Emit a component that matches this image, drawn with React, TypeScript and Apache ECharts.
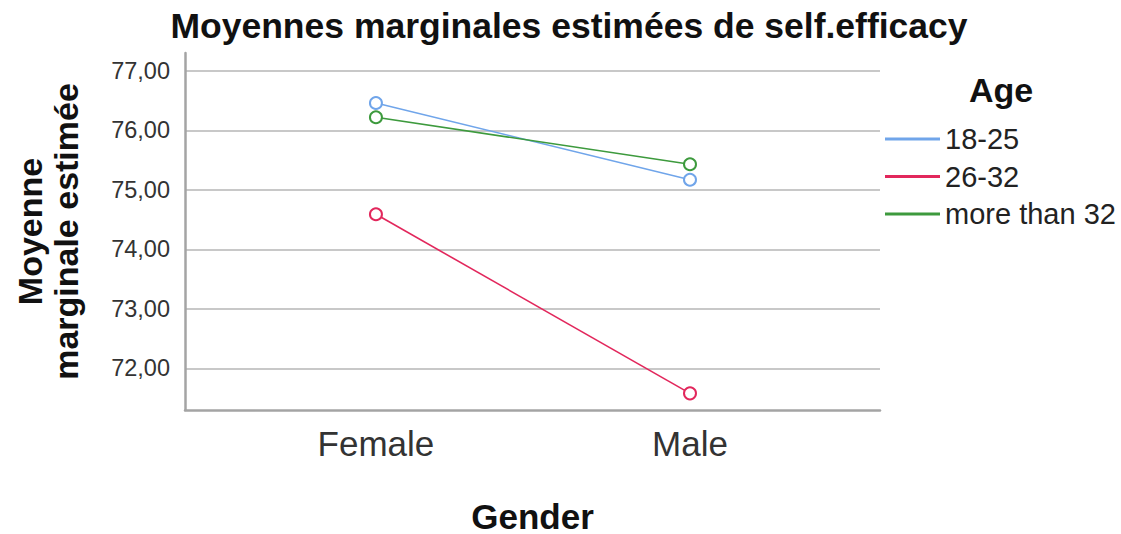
import React, { useEffect, useRef } from "react";
import * as echarts from "echarts";

const genders = ["Female", "Male"];
const ageGroups = ["18-25", "26-32", "more than 32"];
const age18to25 = [76.46, 75.17];
const age26to32 = [74.59, 71.58];
const ageOver32 = [76.22, 75.43];
const yTicks = [72, 73, 74, 75, 76, 77];
const colors = ["#70a5ea", "#e2275c", "#3d9a3d"];

const FONT = "'Liberation Sans', Arial, sans-serif";

export default function App() {
  const ref = useRef<HTMLDivElement>(null);
  useEffect(() => {
    if (!ref.current) return;
    const chart = echarts.init(ref.current, undefined, { renderer: "svg" });
    const seriesValues = [age18to25, age26to32, ageOver32];
    const series = ageGroups.map((name, i) => ({
      name,
      type: "line",
      data: seriesValues[i].map((v, j) => [j, v]),
      symbol: "emptyCircle",
      symbolSize: 12,
      color: colors[i],
      lineStyle: { width: 1.6, color: colors[i] },
      itemStyle: { color: colors[i], borderWidth: 1.6 },
      emphasis: { disabled: true },
    }));
    chart.setOption({
      animation: false,
      textStyle: { fontFamily: FONT },
      title: {
        text: "Moyennes marginales estimées de self.efficacy",
        left: 564,
        textAlign: "center",
        top: 3,
        textStyle: { fontSize: 35.5, fontWeight: "bold", color: "#111", fontFamily: FONT },
      },
      legend: {
        orient: "vertical",
        left: 885,
        top: 124,
        padding: 0,
        icon: "rect",
        itemWidth: 55,
        itemHeight: 3,
        itemGap: 7.5,
        data: ageGroups.map((n, i) => ({ name: n, itemStyle: { color: colors[i] } })),
        textStyle: { fontSize: 29, color: "#222", fontFamily: FONT, lineHeight: 30 },
      },
      graphic: [
        {
          type: "text",
          left: 969,
          top: 73,
          style: { text: "Age", font: `bold 34px ${FONT}`, fill: "#111" },
        },
      ],
      grid: { left: 185, right: 241, top: 53, bottom: 124, outerBoundsMode: "none", containLabel: false },
      xAxis: {
        type: "value",
        min: -0.608,
        max: 1.605,
        name: "Gender",
        nameLocation: "middle",
        nameGap: 91,
        nameTextStyle: { fontSize: 35, fontWeight: "bold", color: "#111", fontFamily: FONT, lineHeight: 30 },
        axisLine: { show: true, onZero: false, lineStyle: { color: "#a4a4a4", width: 2.5 } },
        axisTick: { show: false },
        splitLine: { show: false },
        axisLabel: {
          customValues: [0, 1],
          formatter: (v: number) => genders[Math.round(v)],
          fontSize: 35,
          color: "#333",
          margin: 16,
          fontFamily: FONT,
        },
      },
      yAxis: {
        type: "value",
        min: 71.3,
        max: 77.3,
        name: "Moyenne\nmarginale estimée",
        nameLocation: "middle",
        nameGap: 101,
        nameRotate: 90,
        nameTextStyle: { fontSize: 34, fontWeight: "bold", color: "#111", fontFamily: FONT, lineHeight: 36 },
        axisLine: { show: true, onZero: false, lineStyle: { color: "#a4a4a4", width: 2.5 } },
        axisTick: { show: false, customValues: yTicks },
        splitLine: { show: true, lineStyle: { color: "#c8c8c8", width: 2 } },
        axisLabel: {
          customValues: yTicks,
          formatter: (v: number) => v.toFixed(2).replace(".", ","),
          fontSize: 23.5,
          color: "#333",
          margin: 15,
          fontFamily: FONT,
        },
      },
      series,
    });
    return () => chart.dispose();
  }, []);
  return <div ref={ref} style={{ width: 1121, height: 534, position: "absolute", left: 0, top: 0 }} />;
}
